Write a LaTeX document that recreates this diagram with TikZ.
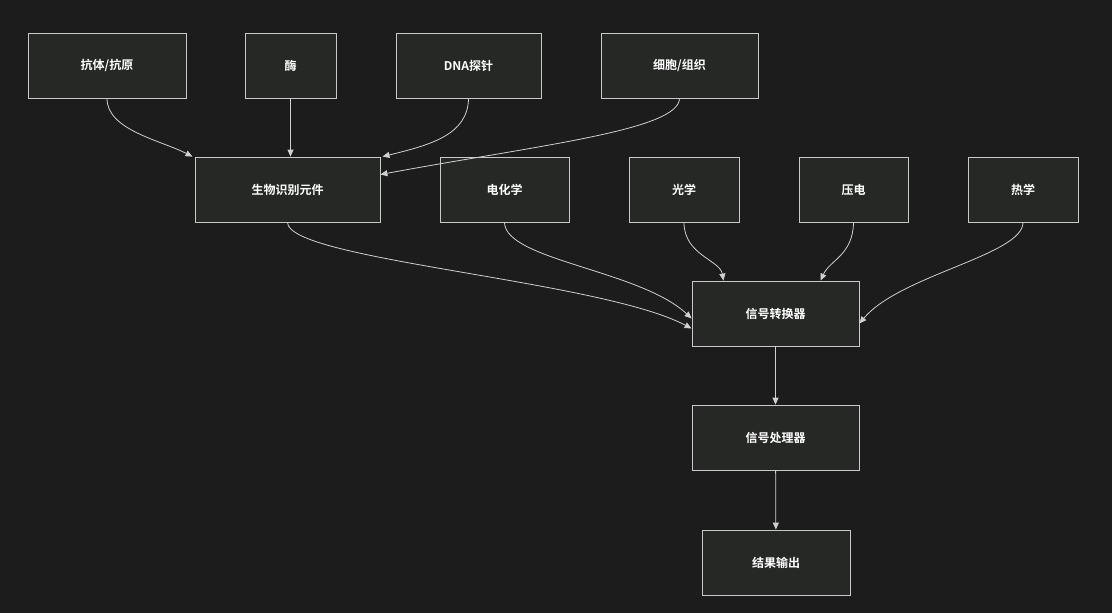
\documentclass[tikz,border=0pt]{standalone}
\usepackage{fontspec}
\newfontfamily\cjk{Noto Sans CJK SC}[BoldFont={Noto Sans CJK SC Bold}]
\usetikzlibrary{arrows.meta}
\definecolor{bg}{HTML}{1C1C1C}
\definecolor{nf}{HTML}{262826}
\definecolor{ns}{HTML}{C8C8C8}
\definecolor{ln}{HTML}{D0D0D0}
\begin{document}
\begin{tikzpicture}[x=1pt,y=-1pt,
 box/.style={draw=ns,fill=nf,line width=0.8pt,minimum height=65pt,inner sep=0pt,text=white,font=\cjk\bfseries\fontsize{12}{14}\selectfont},
 ar/.style={draw=ln,line width=0.8pt,-{Triangle[length=7pt,width=6pt]}}]
\fill[bg] (0,0) rectangle (1112,613);
\useasboundingbox (0,0) rectangle (1112,613);
\node[box,minimum width=158pt] (a) at (107,65.5) {抗体/抗原};
\node[box,minimum width=91pt] (b) at (290.5,65.5) {酶};
\node[box,minimum width=145pt] (c) at (468.5,65.5) {DNA探针};
\node[box,minimum width=157pt] (d) at (679.5,65.5) {细胞/组织};
\node[box,minimum width=185pt] (e) at (287.5,189.5) {生物识别元件};
\node[box,minimum width=129pt] (f) at (504.5,189.5) {电化学};
\node[box,minimum width=110pt] (g) at (684,189.5) {光学};
\node[box,minimum width=109pt] (h) at (853.5,189.5) {压电};
\node[box,minimum width=110pt] (i) at (1023,189.5) {热学};
\node[box,minimum width=167pt] (j) at (775.5,313.5) {信号转换器};
\node[box,minimum width=167pt] (k) at (775.5,437.5) {信号处理器};
\node[box,minimum width=148pt] (l) at (776,562.5) {结果输出};
\draw[ar] (a.south) .. controls (107,130) and (160,140) .. ([xshift=-95pt]e.north);
\draw[ar] (b.south) -- ([xshift=3pt]e.north);
\draw[ar] (c.south) .. controls (468,135) and (430,145) .. ([xshift=95pt]e.north);
\draw[ar] (d.south) .. controls (679,130) and (540,145) .. ([yshift=15pt]e.east);
\draw[ar] (e.south) .. controls (288,260) and (600,280) .. ([yshift=-15pt]j.west);
\draw[ar] (f.south) .. controls (505,260) and (640,270) .. ([yshift=-5pt]j.west);
\draw[ar] (g.south) .. controls (684,255) and (720,260) .. ([xshift=-52pt]j.north);
\draw[ar] (h.south) .. controls (853,255) and (830,260) .. ([xshift=45pt]j.north);
\draw[ar] (i.south) .. controls (1023,255) and (900,275) .. ([yshift=-10pt]j.east);
\draw[ar] (j) -- (k);
\draw[ar] (k) -- (l);
\end{tikzpicture}
\end{document}
